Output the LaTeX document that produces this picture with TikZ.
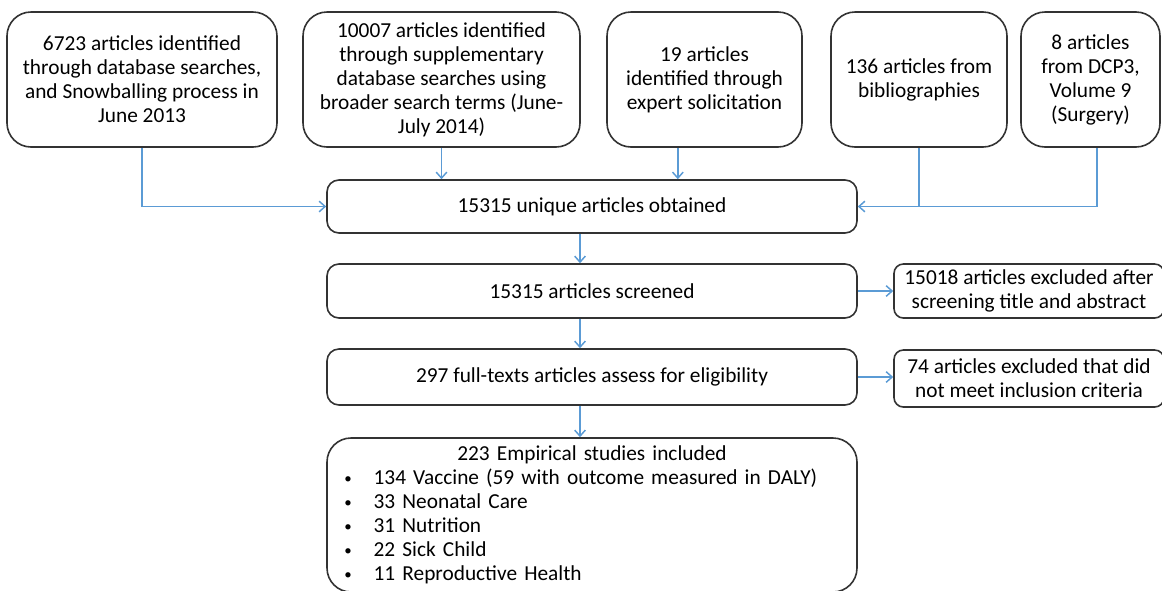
\documentclass[tikz,border=0pt]{standalone}
\usepackage{fontspec}
\setmainfont{Carlito}
\usetikzlibrary{positioning,arrows.meta}
\definecolor{flowblue}{RGB}{91,155,213}
\newcommand\bulletline[1]{\hspace*{13pt}\makebox[22pt][l]{\raisebox{1pt}{\scalebox{0.7}{\textbullet}}}#1}

\begin{document}
\begin{tikzpicture}[x=0.75pt,y=-0.75pt,
  font=\fontsize{16}{18}\selectfont,
  srcbox/.style={draw=black!80,line width=1.2pt,rounded corners=18pt,align=center,inner sep=0pt,minimum height=101.25pt},
  midbox/.style={draw=black!80,line width=1.2pt,rounded corners=9pt,align=center,inner sep=0pt,minimum width=397.5pt},
  sidebox/.style={draw=black!80,line width=1.2pt,rounded corners=7pt,align=center,inner sep=0pt,minimum width=202.5pt},
  link/.style={draw=flowblue,line width=1.1pt},
  flow/.style={link,-{Straight Barb[length=4.5pt,width=8pt]}}]
\useasboundingbox (0,0) rectangle (1162,590);

\node[srcbox,minimum width=202.5pt] (db) at (142,79.5) {6723 articles identified\\through database searches,\\and Snowballing process in\\June 2013};
\node[srcbox,minimum width=207.75pt] (supp) at (441.5,79.5) {10007 articles identified\\through supplementary\\database searches using\\broader search terms (June-\\July 2014)};
\node[srcbox,minimum width=146.25pt] (expert) at (704.5,79.5) {19 articles\\identified through\\expert solicitation};
\node[srcbox,minimum width=132pt] (biblio) at (919,79.5) {136 articles from\\bibliographies};
\node[srcbox,minimum width=104.25pt] (dcp) at (1090.5,79.5) {8 articles\\from DCP3,\\Volume 9\\(Surgery)};

\node[midbox,minimum height=39.75pt] (uniq) at (592,206.5) {15315 unique articles obtained};
\node[midbox,minimum height=40.5pt] (screen) at (592,291) {15315 articles screened};
\node[midbox,minimum height=42pt] (full) at (592,377) {297 full-texts articles assess for eligibility};
\node[midbox,minimum height=115.5pt,rounded corners=18pt,text width=397.5pt,align=left] (incl) at (592,515)
  {\makebox[\linewidth]{223 Empirical studies included}\\
   \bulletline{134 Vaccine (59 with outcome measured in DALY)}\\
   \bulletline{33 Neonatal Care}\\
   \bulletline{31 Nutrition}\\
   \bulletline{22 Sick Child}\\
   \bulletline{11 Reproductive Health}};

\node[sidebox,minimum height=40.5pt] (excl1) at (1029,291) {15018 articles excluded after\\screening title and abstract};
\node[sidebox,minimum height=42.75pt] (excl2) at (1029,378.5) {74 articles excluded that did\\not meet inclusion criteria};

\draw[flow] (db.south) |- (uniq.west);
\draw[flow] (supp.south) -- (supp.south |- uniq.north);
\draw[flow] ([xshift=-20pt]expert.south) coordinate (e1) -- (e1 |- uniq.north);
\draw[link] (biblio.south) -- (biblio.south |- uniq.east);
\draw[flow] ([xshift=5pt]dcp.south) |- (uniq.east);

\draw[flow] ([xshift=-9pt]uniq.south) coordinate (u1) -- (u1 |- screen.north);
\draw[flow] ([xshift=-9pt]screen.south) coordinate (s1) -- (s1 |- full.north);
\draw[flow] ([xshift=-9pt]full.south) coordinate (f1) -- (f1 |- incl.north);
\draw[flow] (screen.east) -- (excl1.west);
\draw[flow] (full.east) -- (full.east -| excl2.west);
\end{tikzpicture}
\end{document}
